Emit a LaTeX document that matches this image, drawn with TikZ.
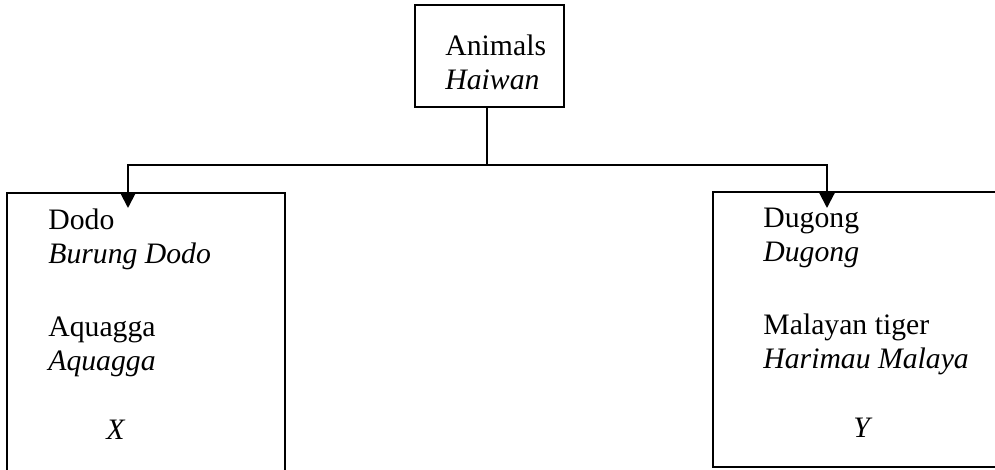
\documentclass[tikz,border=0pt]{standalone}
\usepackage{fontspec}
\setmainfont{Liberation Serif}
\usepackage{tikz}
\usetikzlibrary{arrows.meta,positioning,fit}
\definecolor{ink}{HTML}{000000}
\tikzset{
  frame/.style={draw=ink,line width=1pt,inner sep=0pt},
  entry/.style={align=left,anchor=north west,inner sep=0pt,text=ink},
  wire/.style={line width=1pt,draw=ink},
  arr/.style={-{Triangle[length=7.5pt,width=7.5pt]},line width=1pt,draw=ink}
}
\newcommand{\malay}[1]{\textit{#1}}

\begin{document}
\begin{tikzpicture}[x=0.5pt,y=-0.5pt,font=\fontsize{14.85}{17}\selectfont]
 \clip (0,0) rectangle (995,470);
 % top box
 \node[frame,fit={(415,5) (564,107)}] (animals) {};
 \node[entry] (animals text) at (445,34) {Animals\\\malay{Haiwan}};
 % two groups
 \node[frame,fit={(7,193) (285,480)}] (extinct) {};
 \node[frame,fit={(713,192) (1000,467)}] (endangered) {};
 \node[entry] (extinct text) at (48,208)
  {Dodo\\\malay{Burung Dodo}\\[19.5pt]Aquagga\\\malay{Aquagga}\\[17.5pt]\hspace*{29pt}\malay{X}};
 \node[entry] (endangered text) at (763,208)
  {Dugong\\\malay{Dugong}\\[19.5pt]Malayan tiger\\\malay{Harimau Malaya}\\[17.5pt]\hspace*{45pt}\malay{Y}};
 % connectors
 \coordinate (split) at (487,165);
 \coordinate (tipL) at (128,208);
 \coordinate (tipR) at (827,208);
 \draw[wire] (split |- animals.south) -- (split);
 \draw[arr] (split) -| (tipL);
 \draw[arr] (split) -| (tipR);
\end{tikzpicture}
\end{document}
